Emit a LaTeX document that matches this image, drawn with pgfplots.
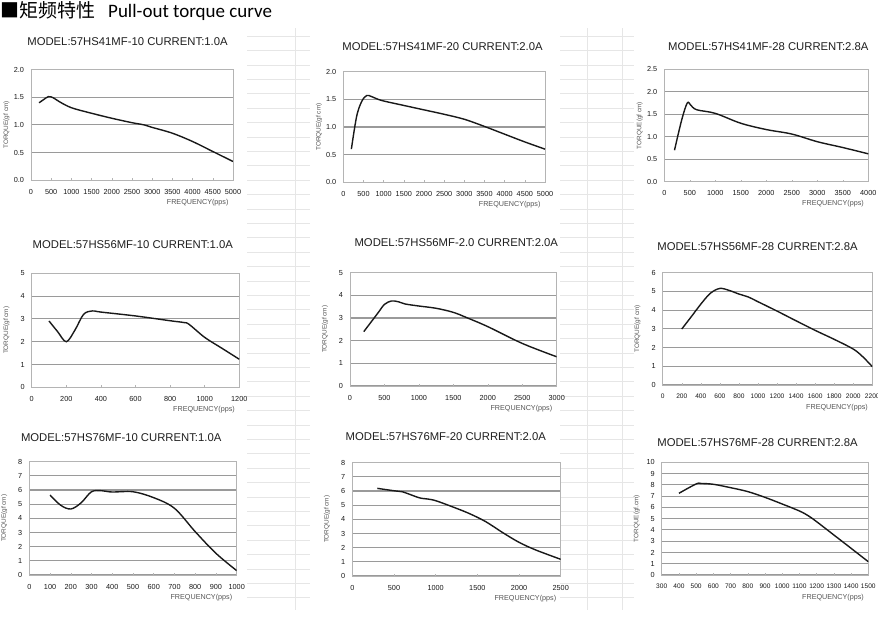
\documentclass[border=0pt]{standalone}
\usepackage{fontspec}
\setmainfont{Liberation Sans}
\newfontfamily\cjk{Noto Sans CJK SC}
\newfontfamily\carlito{Carlito}
\usepackage{pgfplots}
\pgfplotsset{compat=1.18}
\definecolor{gridc}{HTML}{9A9A9A}
\definecolor{boxc}{HTML}{B4B4B4}
\definecolor{labc}{HTML}{555555}
\definecolor{xl}{HTML}{E6E6E6}
\pgfplotsset{
  mc/.style={
    scale only axis, enlargelimits=false,
    axis line style={draw=boxc, line width=0.9pt},
    ymajorgrids, grid style={draw=gridc, line width=1.1pt},
    tick align=inside, xtick pos=bottom, ytick pos=left,
    major tick length=2pt,
    xtick style={draw=boxc, line width=0.5pt}, ytick style={draw=none},
    /pgf/number format/assume math mode=true,
    /pgf/number format/1000 sep={},
    tick label style={font=\fontsize{7.3}{8}\selectfont, text=black!90},
    xticklabel style={yshift=-5.5pt},
    yticklabel style={xshift=-3.5pt},
    xlabel={FREQUENCY(pps)}, ylabel={TORQUE(gf cm)},
    every axis x label/.style={at={(axis description cs:1,0)}, anchor=north east, yshift=-15.5pt, xshift=-1pt, font=\fontsize{7.2}{8}\selectfont, text=labc},
    every axis y label/.style={at={(axis description cs:-0.121,0.5)}, rotate=90, anchor=center, font=\fontsize{6.4}{7}\selectfont, text=labc},
  },
  dec/.style={/pgf/number format/.cd, fixed, fixed zerofill, precision=1},
  crv/.style={black!90, line width=1.4pt, smooth, tension=0.55, no markers},
}
\newcommand{\ttl}[3]{\node[font=\fontsize{11.3}{13}\selectfont, text=black!88, inner sep=0pt] at (#1pt,-#2pt) {#3};}
\begin{document}
\begin{tikzpicture}
\path[use as bounding box, fill=white] (0pt,0pt) rectangle (878pt,-619pt);
% faint spreadsheet cell lines in the gaps between the chart pictures
\foreach \yy in {36,50.4,...,606} {
  \draw[xl, line width=0.6pt] (247pt,-\yy pt) -- (310pt,-\yy pt);
  \draw[xl, line width=0.6pt] (560pt,-\yy pt) -- (634pt,-\yy pt);
}
\draw[xl, line width=0.6pt] (295pt,-28pt) -- (295pt,-610pt);
\draw[xl, line width=0.6pt] (587pt,-28pt) -- (587pt,-610pt);
\draw[xl, line width=0.6pt] (622pt,-28pt) -- (622pt,-610pt);
% header
\node[anchor=base west, inner sep=0pt, font=\fontsize{19}{21}\selectfont\cjk] at (0pt,-17pt) {■矩频特性};
\node[anchor=base west, inner sep=0pt, font=\fontsize{19}{21}\selectfont\carlito] at (108pt,-17pt) {Pull-out torque curve};
% titles
\ttl{127.5}{41.7}{MODEL:57HS41MF-10 CURRENT:1.0A}
\ttl{442.5}{46.7}{MODEL:57HS41MF-20 CURRENT:2.0A}
\ttl{768.3}{46.7}{MODEL:57HS41MF-28 CURRENT:2.8A}
\ttl{132.8}{244.5}{MODEL:57HS56MF-10 CURRENT:1.0A}
\ttl{456.3}{242.2}{MODEL:57HS56MF-2.0 CURRENT:2.0A}
\ttl{757.5}{246.3}{MODEL:57HS56MF-28 CURRENT:2.8A}
\ttl{121.2}{437.8}{MODEL:57HS76MF-10 CURRENT:1.0A}
\ttl{445.8}{436.2}{MODEL:57HS76MF-20 CURRENT:2.0A}
\ttl{757.5}{442.8}{MODEL:57HS76MF-28 CURRENT:2.8A}

% 1
\begin{axis}[mc, at={(31pt,-180.3pt)}, anchor=south west, width=202pt, height=110.8pt,
  xmin=0, xmax=5000, ymin=0, ymax=2, xtick distance=500, ytick distance=0.5, yticklabel style={dec}]
\addplot[crv] coordinates {(200,1.40)(300,1.45)(430,1.51)(550,1.49)(700,1.42)(1000,1.31)(1500,1.21)(2000,1.12)(2500,1.04)(2800,1.00)(3000,0.955)(3500,0.85)(4000,0.70)(4500,0.52)(5000,0.34)};
\end{axis}
% 2
\begin{axis}[mc, at={(343.3pt,-182.3pt)}, anchor=south west, width=201.7pt, height=110.6pt,
  xmin=0, xmax=5000, ymin=0, ymax=2, xtick distance=500, ytick distance=0.5, yticklabel style={dec}]
\addplot[crv] coordinates {(200,0.60)(330,1.19)(455,1.46)(580,1.57)(700,1.55)(950,1.48)(1500,1.39)(2000,1.31)(2500,1.23)(3000,1.14)(3500,1.01)(4000,0.87)(4500,0.73)(5000,0.60)};
\end{axis}
% 3
\begin{axis}[mc, at={(664.3pt,-181.7pt)}, anchor=south west, width=204pt, height=112.4pt,
  xmin=0, xmax=4000, ymin=0, ymax=2.5, xtick distance=500, ytick distance=0.5, yticklabel style={dec}]
\addplot[crv] coordinates {(200,0.70)(340,1.37)(450,1.75)(520,1.70)(635,1.60)(1000,1.52)(1500,1.30)(2000,1.16)(2500,1.06)(3000,0.89)(3500,0.76)(4000,0.62)};
\end{axis}
% 4
\begin{axis}[mc, at={(31.7pt,-387.3pt)}, anchor=south west, width=207.6pt, height=114pt,
  xmin=0, xmax=1200, ymin=0, ymax=5, xtick distance=200, ytick distance=1]
\addplot[crv] coordinates {(100,2.91)(150,2.44)(200,2.00)(250,2.51)(300,3.20)(350,3.35)(400,3.30)(600,3.13)(800,2.92)(880,2.84)(910,2.76)(1000,2.19)(1100,1.71)(1200,1.23)};
\end{axis}
% 5
\begin{axis}[mc, at={(350pt,-386pt)}, anchor=south west, width=206.7pt, height=113.3pt,
  xmin=0, xmax=3000, ymin=0, ymax=5, xtick distance=500, ytick distance=1]
\addplot[crv] coordinates {(200,2.40)(400,3.20)(500,3.60)(600,3.75)(700,3.72)(800,3.62)(1000,3.53)(1250,3.43)(1500,3.25)(1700,3.01)(2000,2.62)(2500,1.88)(3000,1.29)};
\end{axis}
% 6
\begin{axis}[mc, at={(662.7pt,-385pt)}, anchor=south west, width=209.6pt, height=112.3pt,
  xmin=0, xmax=2200, ymin=0, ymax=6, xtick distance=200, ytick distance=1,
  xticklabel style={font=\fontsize{6.6}{8}\selectfont}]
\addplot[crv] coordinates {(200,2.99)(300,3.65)(400,4.32)(500,4.90)(600,5.16)(700,5.05)(800,4.86)(900,4.70)(1000,4.45)(1200,3.95)(1400,3.43)(1600,2.92)(1800,2.44)(2000,1.92)(2100,1.51)(2200,0.98)};
\end{axis}
% 7
\begin{axis}[mc, at={(29.3pt,-575pt)}, anchor=south west, width=207.4pt, height=113.3pt,
  xmin=0, xmax=1000, ymin=0, ymax=8, xtick distance=100, ytick distance=1]
\addplot[crv] coordinates {(100,5.65)(150,4.94)(200,4.66)(250,5.10)(300,5.88)(350,5.95)(400,5.86)(500,5.88)(600,5.46)(700,4.71)(800,3.06)(900,1.53)(1000,0.31)};
\end{axis}
% 8
\begin{axis}[mc, at={(352.3pt,-576pt)}, anchor=south west, width=208.4pt, height=113.3pt,
  xmin=0, xmax=2500, ymin=0, ymax=8, xtick distance=500, ytick distance=1]
\addplot[crv] coordinates {(300,6.19)(500,6.02)(600,5.95)(800,5.53)(900,5.44)(1000,5.32)(1200,4.89)(1400,4.42)(1600,3.84)(1800,3.08)(2000,2.38)(2200,1.84)(2500,1.18)};
\end{axis}
% 9
\begin{axis}[mc, at={(661.7pt,-575pt)}, anchor=south west, width=206.6pt, height=112.7pt,
  xmin=300, xmax=1500, ymin=0, ymax=10, xtick distance=100, ytick distance=1, ylabel={TORQUE(gf.cm)},
  xticklabel style={font=\fontsize{6.6}{8}\selectfont}]
\addplot[crv] coordinates {(400,7.25)(500,8.08)(530,8.12)(600,8.05)(700,7.75)(800,7.40)(900,6.89)(1000,6.30)(1100,5.68)(1150,5.27)(1200,4.73)(1300,3.55)(1400,2.37)(1500,1.18)};
\end{axis}
\end{tikzpicture}
\end{document}
